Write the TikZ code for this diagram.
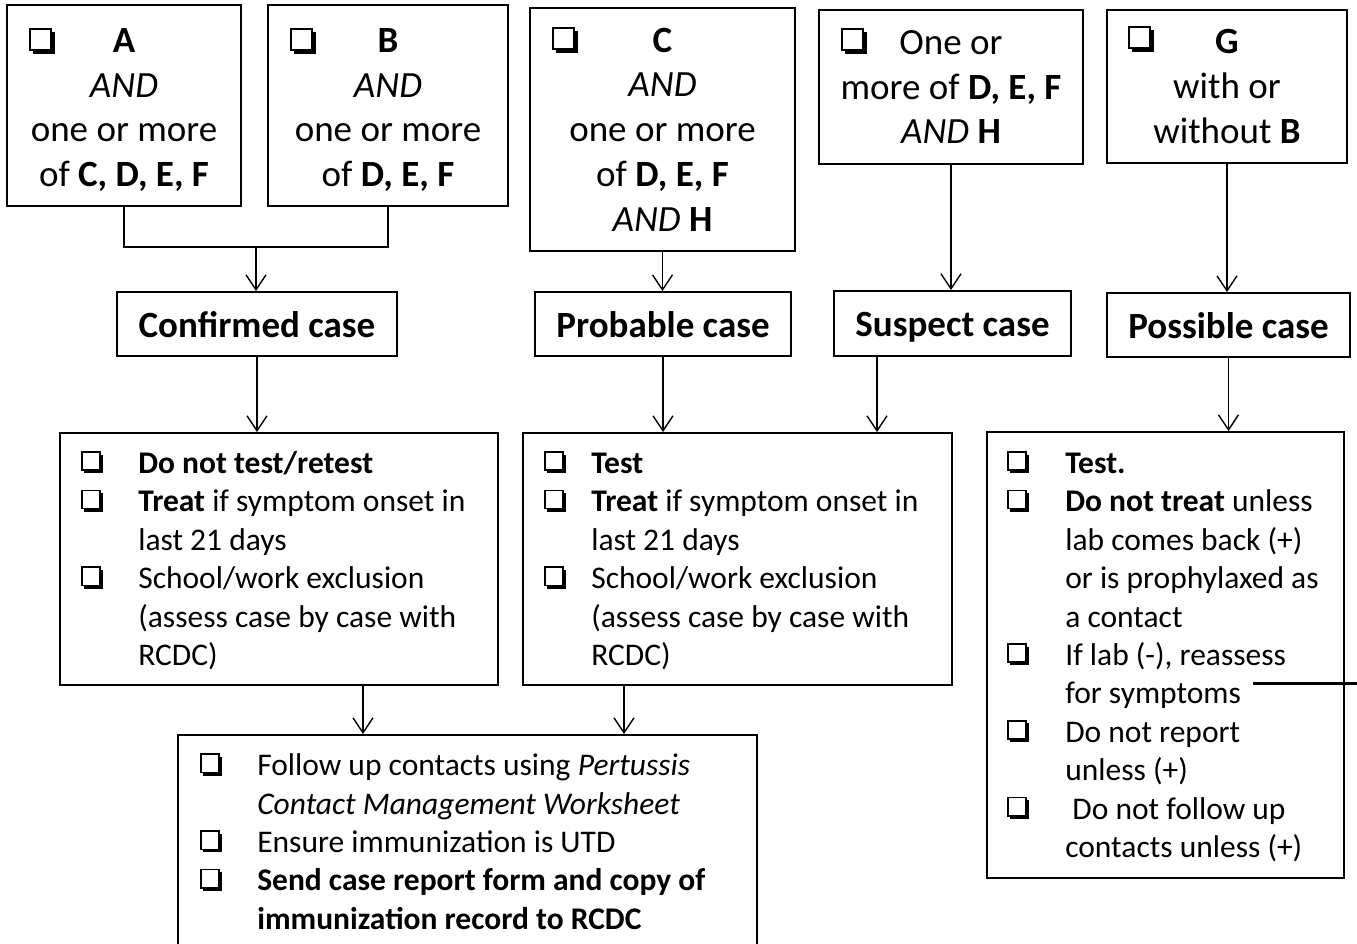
\documentclass[tikz,border=0pt]{standalone}
\usepackage{fontspec}
\setmainfont{Carlito}
\usetikzlibrary{arrows.meta}
\newcommand\cbx{\tikz[baseline=0pt,x=1em,y=1em]{\fill[black] (0.1,0) rectangle (0.7,0.6);\filldraw[fill=white,draw=black,line width=0.05em] (0.03,0.1) rectangle (0.6,0.68);}}
\newcommand\cbitem[1]{\makebox[#1][l]{\cbx}}
\newcommand\cbcont[1]{\hspace*{#1}}
\begin{document}
\begin{tikzpicture}[x=1pt,y=-1pt,
  box/.style={draw,line width=1.8pt,inner sep=0pt,align=center},
  topf/.style={font=\fontsize{37}{44.7}\selectfont},
  casef/.style={font=\fontsize{37}{44.7}\selectfont\bfseries,text height=30pt,text depth=4pt},
  txt/.style={inner sep=0pt,align=left,font=\fontsize{31.5}{38.4}\selectfont},
  cbn/.style={inner sep=0pt,font=\fontsize{37}{44.7}\selectfont,anchor=base west},
  conn/.style={line width=1.4pt},
  arr/.style={conn,-{Straight Barb[length=15pt,width=20pt]}}]
\useasboundingbox (0,0) rectangle (1357,944);
% criteria boxes
\node[box,topf,minimum width=234,minimum height=201] (A) at (124,105.5) {\rule{0pt}{33pt}\textbf{A}\\\textit{AND}\\one or more\\of \textbf{C, D, E, F}};
\node[box,topf,minimum width=240,minimum height=201] (B) at (388,105.5) {\rule{0pt}{33pt}\textbf{B}\\\textit{AND}\\one or more\\of \textbf{D, E, F}};
\node[box,topf,minimum width=265,minimum height=243] (C) at (662.5,129.5) {\textbf{C}\\\textit{AND}\\one or more\\of \textbf{D, E, F}\\\textit{AND} \textbf{H}};
\node[box,topf,minimum width=264,minimum height=154] (S) at (951,87) {One or\\more of \textbf{D, E, F}\\\textit{AND} \textbf{H}};
\node[box,topf,minimum width=240,minimum height=153] (G) at (1227,86.5) {\textbf{G}\\with or\\without \textbf{B}};
\node[cbn] (cbA) at ([shift={(23,50)}]A.north west) {\cbx};
\node[cbn] (cbB) at ([shift={(23,50)}]B.north west) {\cbx};
\node[cbn] (cbC) at ([shift={(23,46)}]C.north west) {\cbx};
\node[cbn] (cbS) at ([shift={(23,45)}]S.north west) {\cbx};
\node[cbn] (cbG) at ([shift={(22,43)}]G.north west) {\cbx};
% case boxes
\node[box,casef,minimum width=280,minimum height=64] (conf) at (257,324) {Confirmed case};
\node[box,casef,minimum width=256,minimum height=64] (prob) at (663,324) {Probable case};
\node[box,casef,minimum width=237,minimum height=65] (susp) at (952.5,323.5) {Suspect case};
\node[box,casef,minimum width=243,minimum height=64] (poss) at (1228.5,325) {Possible case};
% action boxes
\node[box,minimum width=438,minimum height=252] (act1) at (279,559) {};
\node[txt,anchor=west] (t1) at ([shift={(22,1.5)}]act1.west) {%
\cbitem{57pt}\textbf{Do not test/retest}\\
\cbitem{57pt}\textbf{Treat} if symptom onset in\\
\cbcont{57pt}last 21 days\\
\cbitem{57pt}School/work exclusion\\
\cbcont{57pt}(assess case by case with\\
\cbcont{57pt}RCDC)};
\node[box,minimum width=429,minimum height=252] (act2) at (737.5,559) {};
\node[txt,anchor=west] (t2) at ([shift={(22,1.5)}]act2.west) {%
\cbitem{47pt}\textbf{Test}\\
\cbitem{47pt}\textbf{Treat} if symptom onset in\\
\cbcont{47pt}last 21 days\\
\cbitem{47pt}School/work exclusion\\
\cbcont{47pt}(assess case by case with\\
\cbcont{47pt}RCDC)};
\node[box,minimum width=357,minimum height=446] (act3) at (1165.5,655) {};
\node[txt,anchor=west] (t3) at ([shift={(21,1.5)}]act3.west) {%
\cbitem{58pt}\textbf{Test.}\\
\cbitem{58pt}\textbf{Do not treat} unless\\
\cbcont{58pt}lab comes back (+)\\
\cbcont{58pt}or is prophylaxed as\\
\cbcont{58pt}a contact\\
\cbitem{58pt}If lab (-), reassess\\
\cbcont{58pt}for symptoms\\
\cbitem{58pt}Do not report\\
\cbcont{58pt}unless (+)\\
\cbitem{58pt}\ Do not follow up\\
\cbcont{58pt}contacts unless (+)};
\node[box,minimum width=579,minimum height=213] (fin) at (467.5,841.5) {};
\node[txt,anchor=west] (t4) at ([xshift=23]fin.west) {%
\cbitem{57pt}Follow up contacts using \textit{Pertussis}\\
\cbcont{57pt}\textit{Contact Management Worksheet}\\
\cbitem{57pt}Ensure immunization is UTD\\
\cbitem{57pt}\textbf{Send case report form and copy of}\\
\cbcont{57pt}\textbf{immunization record to RCDC}};
% connectors
\coordinate (j) at (256,247);
\draw[conn] (A.south) |- (j) -| (B.south);
\draw[arr] (j) -- (j |- conf.north);
\draw[arr] (C.south) -- (C.south |- prob.north);
\draw[arr] (S.south) -- (S.south |- susp.north);
\draw[arr] (G.south) -- (G.south |- poss.north);
\draw[arr] (conf.south) -- (conf.south |- act1.north);
\draw[arr] (prob.south) -- (prob.south |- act2.north);
\draw[arr] ([xshift=-75.5]susp.south) -- ([xshift=-75.5]susp.south |- act2.north);
\draw[arr] (poss.south) -- (poss.south |- act3.north);
\draw[arr] ([xshift=84]act1.south) -- ([xshift=84]act1.south |- fin.north);
\draw[arr] ([xshift=-113.5]act2.south) -- ([xshift=-113.5]act2.south |- fin.north);
% stray stroke
\coordinate (s0) at (1253,683);
\coordinate (s1) at (1357,683);
\draw[line width=3pt] (s0) -- (s1);
\end{tikzpicture}
\end{document}
